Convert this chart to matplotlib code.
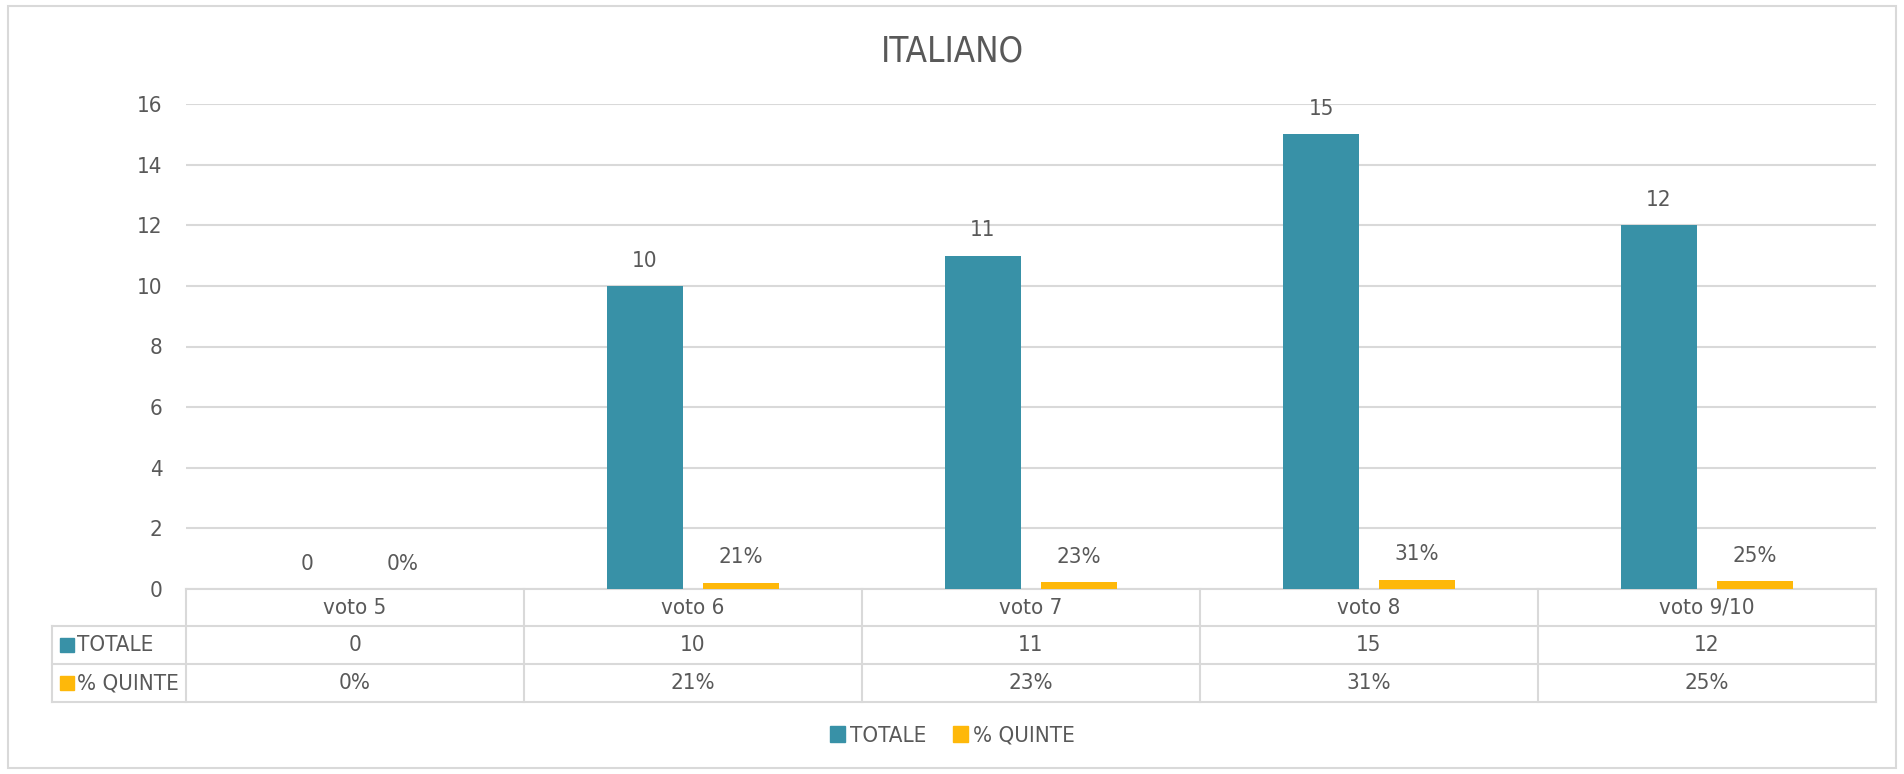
import matplotlib
matplotlib.use("Agg")
import matplotlib.pyplot as plt
from matplotlib.patches import Rectangle
import numpy as np

plt.rcParams['font.family'] = ['DejaVu Sans']
plt.rcParams['font.stretch'] = 'condensed'

categories = ["voto 5", "voto 6", "voto 7", "voto 8", "voto 9/10"]
totale = [0, 10, 11, 15, 12]
quinte = [0.0, 0.21, 0.23, 0.31, 0.25]
series_names = ["TOTALE", "% QUINTE"]
yticks = [0, 2, 4, 6, 8, 10, 12, 14, 16]

teal = "#3891A7"
yellow = "#FEB80A"
txt = "#595959"
grid = "#D9D9D9"
fs = 16

W, H = 1904, 774
fig = plt.figure(figsize=(W / 100, H / 100), dpi=100)

# plot area in pixels: x 186..1876, y 104..589 (from top)
left, right, top, bottom = 186, 1876, 104, 589
ax = fig.add_axes([left / W, 1 - bottom / H, (right - left) / W, (bottom - top) / H])
cat_px = (right - left) / len(categories)

x = np.arange(len(categories))
bw = 0.222
off = 0.142
ax.bar(x - off, totale, bw, color=teal, label=series_names[0], zorder=3)
ax.bar(x + off, quinte, bw, color=yellow, label=series_names[1], zorder=3)

for xi, v in zip(x, totale):
    ax.annotate(f"{v}", (xi - off, v), xytext=(0, 11), textcoords="offset points",
                ha="center", va="bottom", fontsize=fs, color=txt)
for xi, v in zip(x, quinte):
    ax.annotate(f"{v:.0%}", (xi + off, v), xytext=(0, 11), textcoords="offset points",
                ha="center", va="bottom", fontsize=fs, color=txt)

ax.set_xlim(-0.5, len(categories) - 0.5)
ax.set_ylim(0, 16)
ax.set_yticks(yticks)
ax.set_xticks([])
ax.tick_params(axis="y", length=0, pad=17, labelsize=fs, labelcolor=txt)
for s in ax.spines.values():
    s.set_visible(False)
ax.yaxis.grid(True, color=grid, lw=1.5, zorder=0)
ax.set_axisbelow(True)

# data table under the plot (axes coordinates, y in fractions of the plot height)
ph = bottom - top
rows_px = [589, 626, 664, 702]
ry = [(bottom - r) / ph for r in rows_px]
col_x = np.arange(len(categories) + 1) - 0.5
lab_left = -0.5 - (left - 52) / cat_px
lk = dict(color=grid, lw=1.5, clip_on=False, zorder=1)
trans = ax.get_xaxis_transform()
ax.plot([col_x[0], col_x[-1]], [ry[0], ry[0]], transform=trans, **lk)
for r in ry[1:]:
    ax.plot([lab_left, col_x[-1]], [r, r], transform=trans, **lk)
for cx in col_x:
    ax.plot([cx, cx], [ry[0], ry[-1]], transform=trans, **lk)
ax.plot([lab_left, lab_left], [ry[1], ry[-1]], transform=trans, **lk)

for i, c in enumerate(categories):
    ax.text(i, (ry[0] + ry[1]) / 2, c, transform=trans, ha="center", va="center",
            fontsize=fs, color=txt)
    ax.text(i, (ry[1] + ry[2]) / 2, f"{totale[i]}", transform=trans, ha="center",
            va="center", fontsize=fs, color=txt)
    ax.text(i, (ry[2] + ry[3]) / 2, f"{quinte[i]:.0%}", transform=trans, ha="center",
            va="center", fontsize=fs, color=txt)

sq_w = 14 / cat_px
sq_h = 14 / ph
for k, (name, col) in enumerate(zip(series_names, [teal, yellow])):
    yc = (ry[k + 1] + ry[k + 2]) / 2
    ax.add_patch(Rectangle((lab_left + 8 / cat_px, yc - sq_h / 2), sq_w, sq_h,
                           transform=trans, color=col, clip_on=False))
    ax.text(lab_left + 25 / cat_px, yc, name, transform=trans, ha="left",
            va="center", fontsize=fs, color=txt)

fig.text(0.5, 1 - 52 / H, "ITALIANO", ha="center", va="center", fontsize=25, color=txt)

handles = [Rectangle((0, 0), 1, 1, color=teal), Rectangle((0, 0), 1, 1, color=yellow)]
fig.legend(handles, series_names, loc="center", bbox_to_anchor=(0.5, 1 - 736 / H),
           ncol=2, frameon=False, fontsize=fs, labelcolor=txt, handlelength=0.7,
           handleheight=0.7, handletextpad=0.2, columnspacing=1.2)

fig.add_artist(Rectangle((8 / W, 6 / H), (W - 16) / W, (H - 12) / H, transform=fig.transFigure,
                         fill=False, edgecolor=grid, lw=1.5))

fig.savefig("out.png", dpi=100)
